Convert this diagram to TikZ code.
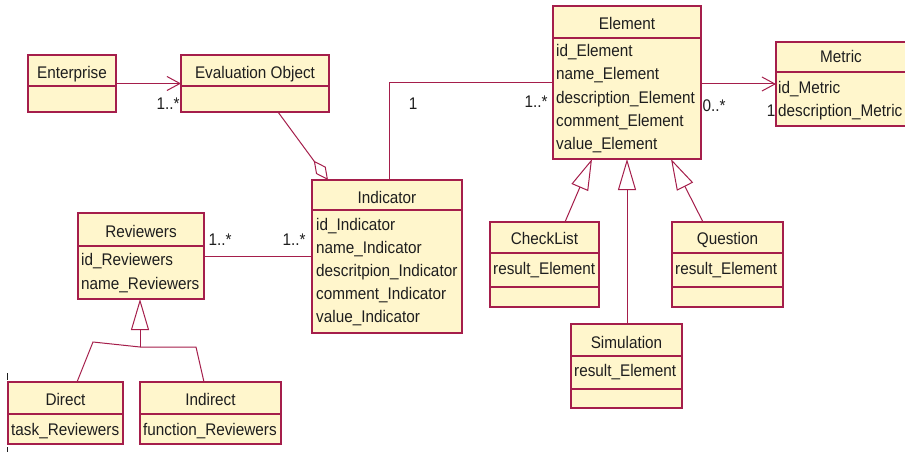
\documentclass[tikz,border=0pt]{standalone}
\usepackage{fontspec}
\usepackage{graphicx}
\setmainfont{Liberation Sans}
\usetikzlibrary{arrows.meta,calc}

\definecolor{umlfill}{RGB}{255,246,204}
\definecolor{umlline}{RGB}{165,30,75}
\definecolor{ink}{RGB}{30,30,30}

\tikzset{
  classbox/.style={draw=umlline, fill=umlfill, line width=1.3pt, inner sep=0pt, outer sep=0pt},
  sepline/.style={draw=umlline, line width=1.3pt},
  ctext/.style={font=\fontsize{15.3}{18}\selectfont, text=ink, inner sep=0pt},
  assoc/.style={draw=umlline, line width=1pt},
  navig/.style={assoc, -{Straight Barb[length=13pt, width=14pt, line width=1pt]}},
  gen/.style={assoc, -{Triangle[open, length=31pt, width=18pt, line width=1pt]}},
  aggr/.style={assoc, -{Diamond[open, length=24pt, width=12pt, line width=1pt]}},
}

% class frame: name, x1, y1, x2, y2 (y grows downwards)
\newcommand\umlclass[5]{%
  \node[classbox, anchor=north west,
        minimum width={(#4-#2)*1pt}, minimum height={(#5-#3)*1pt}] (#1) at (#2,#3) {};}
% compartment separator: x1, x2, y
\newcommand\csep[3]{\draw[sepline] (#1,#3) -- (#2,#3);}
% centred text on a baseline: x, baseline, text
\newcommand\ctitle[3]{\node[ctext, anchor=base] at (#1,#2) {\scalebox{1}[1.1]{#3}};}
% left aligned text on a baseline: x, baseline, text
\newcommand\cattr[3]{\node[ctext, anchor=base west] at (#1,#2) {\scalebox{1}[1.1]{#3}};}

\begin{document}
\begin{tikzpicture}[x=1pt, y=-1pt]
\useasboundingbox (0,0) rectangle (905,452);
\fill[white] (0,0) rectangle (905,452);

% ---- classes ----
\umlclass{enterprise}{28}{55}{116}{112}
\csep{28}{116}{86}
\ctitle{72}{78}{Enterprise}

\umlclass{evalobj}{181}{55}{329}{112}
\csep{181}{329}{86}
\ctitle{255}{78}{Evaluation Object}

\umlclass{element}{553}{6}{701}{159}
\csep{553}{701}{38}
\ctitle{627}{30}{Element}
\cattr{556}{57}{id\_Element}
\cattr{556}{80}{name\_Element}
\cattr{556}{103}{description\_Element}
\cattr{556}{126}{comment\_Element}
\cattr{556}{149}{value\_Element}

\umlclass{metric}{776}{42}{906}{126}
\csep{776}{906}{72}
\ctitle{841}{63}{Metric}
\cattr{778}{93}{id\_Metric}
\cattr{778}{116}{description\_Metric}

\umlclass{indicator}{312}{180}{462}{333}
\csep{312}{462}{210}
\ctitle{387}{203}{Indicator}
\cattr{316}{230}{id\_Indicator}
\cattr{316}{253}{name\_Indicator}
\cattr{316}{276}{descritpion\_Indicator}
\cattr{316}{299}{comment\_Indicator}
\cattr{316}{322}{value\_Indicator}

\umlclass{reviewers}{78}{213}{204}{299}
\csep{78}{204}{246}
\ctitle{141}{237}{Reviewers}
\cattr{81}{265}{id\_Reviewers}
\cattr{81}{289}{name\_Reviewers}

\umlclass{direct}{8}{382}{123}{444}
\csep{8}{123}{414}
\ctitle{65.5}{405}{Direct}
\cattr{11}{435}{task\_Reviewers}

\umlclass{indirect}{140}{382}{281}{444}
\csep{140}{281}{414}
\ctitle{210.5}{405}{Indirect}
\cattr{143}{435}{function\_Reviewers}

\umlclass{checklist}{490}{222}{599}{307}
\csep{490}{599}{253}
\csep{490}{599}{287}
\ctitle{544.5}{244}{CheckList}
\cattr{493}{274}{result\_Element}

\umlclass{question}{672}{222}{783}{307}
\csep{672}{783}{253}
\csep{672}{783}{287}
\ctitle{727.5}{244}{Question}
\cattr{675}{274}{result\_Element}

\umlclass{simulation}{571}{324}{682}{408}
\csep{571}{682}{356}
\csep{571}{682}{389}
\ctitle{626.5}{348}{Simulation}
\cattr{574}{376}{result\_Element}

% ---- connectors ----
\draw[navig] (enterprise.east) -- (evalobj.west);
\draw[aggr] ([xshift=97pt]evalobj.south west) -- ([xshift=16pt]indicator.north west);
\draw[assoc] ([xshift=77pt]indicator.north west) |- (element.west);
\draw[navig] (element.east |- metric.west) -- (metric.west);
\draw[assoc] (reviewers.east) -- (reviewers.east -| indicator.west);

\coordinate (rj) at (140,347);
\draw[assoc] ([xshift=69pt]direct.north west) -- (93,342) -- (rj);
\draw[assoc] ([xshift=64pt]indirect.north west) -- (196,347) -- (rj);
\draw[gen] (rj) -- (rj |- reviewers.south);

\draw[gen] ([xshift=75pt]checklist.north west) -- ([xshift=39pt]element.south west);
\draw[gen] ([xshift=56pt]simulation.north west) -- ([xshift=74pt]element.south west);
\draw[gen] ([xshift=31pt]question.north west) -- ([xshift=118pt]element.south west);

% ---- multiplicities ----
\ctitle{168}{110}{1..*}
\ctitle{413}{109}{1}
\ctitle{536}{107}{1..*}
\ctitle{714}{111}{0..*}
\ctitle{771}{117}{1}
\ctitle{220}{245}{1..*}
\ctitle{294}{245}{1..*}

% small marks at the left edge
\draw[ink, line width=0.8pt] (7,373) -- (7,380);
\draw[ink, line width=0.8pt] (7,447) -- (7,452);
\end{tikzpicture}
\end{document}
